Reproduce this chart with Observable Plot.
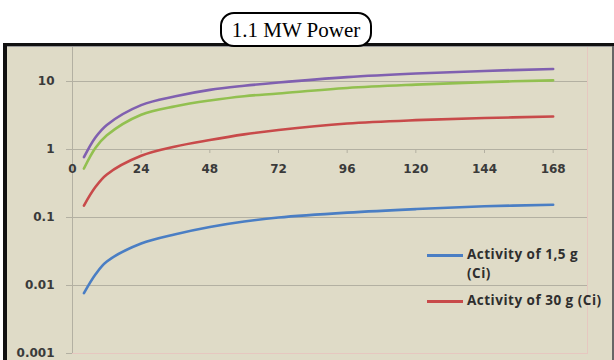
<!DOCTYPE html>
<html><head><meta charset="utf-8">
<script src="https://cdn.jsdelivr.net/npm/d3@7"></script>
<script src="https://cdn.jsdelivr.net/npm/@observablehq/plot@0.6"></script>
<style>
body{margin:0;background:#fff;}
#wrap{position:relative;width:614px;height:360px;overflow:hidden;background:#fff;}
#chart{position:absolute;left:0;top:0;}
.blk{position:absolute;}
#title{position:absolute;left:220px;top:12px;width:148px;height:31px;border:2px solid #000;border-radius:14px;background:#fff;
  font:21px "Liberation Serif",serif;text-align:center;line-height:32px;color:#000;}
#legend{position:absolute;left:427px;top:245px;font:700 13.5px "Open Sans",sans-serif;color:#2e2e2e;}
.item{position:relative;display:flex;align-items:flex-start;margin-bottom:8px;}
.sw{width:36px;height:3px;margin-top:9px;margin-right:4px;flex:none;}
.lab{white-space:nowrap;line-height:19px;letter-spacing:0.5px;}
</style></head>
<body><div id="wrap">
<div id="chart"></div>
<div class="blk" style="left:0;top:0;width:614px;height:43px;background:#fff"></div>
<div class="blk" style="left:0;top:0;width:3px;height:360px;background:#fff"></div>
<div class="blk" style="left:3px;top:43px;width:611px;height:3px;background:#111"></div>
<div class="blk" style="left:7px;top:46px;width:607px;height:1px;background:#9a9a9a"></div>
<div class="blk" style="left:3px;top:43px;width:4px;height:317px;background:#111"></div>
<div class="blk" style="left:612px;top:46px;width:2px;height:314px;background:#666"></div>
<div id="title">1.1 MW Power</div>
<div id="legend"></div>
</div>
<script>
const hours = [4, 8, 12, 24, 36, 48, 60, 72, 96, 120, 144, 168];
const act1_5 = [0.0077, 0.0145, 0.0225, 0.0415, 0.0569, 0.0727, 0.0874, 0.1, 0.118, 0.133, 0.146, 0.154];
const act30 = [0.15, 0.28, 0.43, 0.81, 1.11, 1.38, 1.67, 1.94, 2.41, 2.70, 2.90, 3.06];
const actGreen = [0.525, 1.05, 1.62, 3.25, 4.33, 5.25, 6.08, 6.66, 8.03, 8.99, 9.8, 10.4];
const actPurple = [0.77, 1.50, 2.30, 4.50, 6.06, 7.53, 8.65, 9.66, 11.6, 13.1, 14.3, 15.3];
const seriesNames = ["Activity of 1,5 g (Ci)", "Activity of 30 g (Ci)", "Series 3", "Series 4"];
const seriesColors = ["#4a7ec4", "#c84a4a", "#92c050", "#8060b0"];
const legendShown = [0, 1];
const legendWrapAfter = ["Activity of 1,5 g", null];
const xTicks = [0, 24, 48, 72, 96, 120, 144, 168];
const xTickLabels = ["0", "24", "48", "72", "96", "120", "144", "168"];
const yTicks = [0.001, 0.01, 0.1, 1, 10];
const yTickLabels = ["0.001", "0.01", "0.1", "1", "10"];
const yGrid = [0.01, 0.1, 1, 10, 100];
const xCross = 1;

const allSeries = [act1_5, act30, actGreen, actPurple];
const rows = [];
allSeries.forEach((vals, s) => vals.forEach((v, i) => rows.push({series: seriesNames[s], t: hours[i], v})));

const grid = "#b3b0a2";
const txt = "#3a3a3a";
const chart = Plot.plot({
  width: 614, height: 360,
  marginLeft: 72, marginRight: 27, marginTop: 13, marginBottom: 7,
  style: {background: "#dfdbc7", overflow: "visible"},
  x: {domain: [0, 180], axis: null},
  y: {type: "log", domain: [0.001, 100], axis: null},
  color: {domain: seriesNames, range: seriesColors},
  marks: [
    Plot.frame({stroke: "#e6c7c0"}),
    Plot.ruleY(yGrid, {stroke: grid}),
    Plot.ruleX([0], {stroke: grid}),
    Plot.ruleX(xTicks, {x: d => d, y1: xCross, y2: xCross, insetBottom: -4, stroke: grid}),
    Plot.axisY({ticks: yTicks, tickFormat: d => yTickLabels[yTicks.indexOf(d)], tickSize: 6, tickPadding: 12,
      stroke: grid, color: txt, fontWeight: "bold", fontSize: 12, fontFamily: "DejaVu Sans", label: null}),
    Plot.text(xTicks, {x: d => d, y: xCross, dy: 20, text: (d, i) => xTickLabels[i], fill: txt,
      fontWeight: "bold", fontSize: 12, fontFamily: "DejaVu Sans"}),
    Plot.line(rows, {x: "t", y: "v", z: "series", stroke: "series", strokeWidth: 2.6, curve: "catmull-rom"})
  ]
});
document.getElementById("chart").appendChild(chart);

const leg = document.getElementById("legend");
legendShown.forEach((s, k) => {
  const it = document.createElement("div");
  it.className = "item";
  const sw = document.createElement("div");
  sw.className = "sw"; sw.style.background = seriesColors[s];
  const lab = document.createElement("div");
  lab.className = "lab";
  const name = seriesNames[s];
  const cut = legendWrapAfter[k];
  if (cut && name.startsWith(cut)) {
    lab.appendChild(document.createTextNode(cut));
    lab.appendChild(document.createElement("br"));
    lab.appendChild(document.createTextNode(name.slice(cut.length).trim()));
  } else lab.textContent = name;
  it.appendChild(sw); it.appendChild(lab);
  leg.appendChild(it);
});
</script>
</body></html>
